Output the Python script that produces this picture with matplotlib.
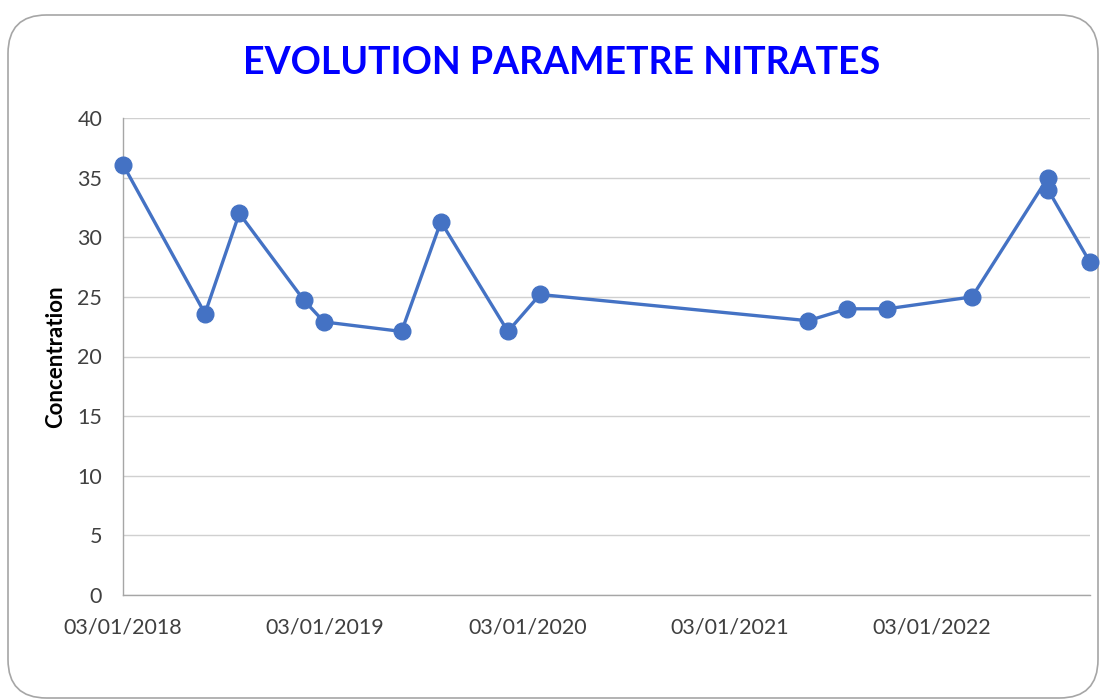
import matplotlib
matplotlib.use("Agg")
import matplotlib.pyplot as plt
import matplotlib.dates as mdates
from matplotlib.patches import FancyBboxPatch
import numpy as np
import datetime as dt

plt.rcParams['font.family'] = ['Lato', 'DejaVu Sans']

# sampling dates and nitrate concentrations
dates = ["2018-01-03", "2018-05-31", "2018-08-01", "2018-11-26", "2019-01-01",
         "2019-05-21", "2019-07-31", "2019-11-29", "2020-01-26", "2021-05-24",
         "2021-08-03", "2021-10-14", "2022-03-16", "2022-07-31", "2022-07-31",
         "2022-10-15"]
nitrates = [36.1, 23.6, 32.0, 24.7, 22.9, 22.1, 31.3, 22.1, 25.2, 23.0,
            24.0, 24.0, 25.0, 35.0, 34.0, 27.9]
tick_dates = ["2018-01-03", "2019-01-03", "2020-01-03", "2021-01-03", "2022-01-03"]

x = [dt.datetime.strptime(d, "%Y-%m-%d") for d in dates]
xt = [dt.datetime.strptime(d, "%Y-%m-%d") for d in tick_dates]

fig = plt.figure(figsize=(11, 7), dpi=100)

# rounded frame around the chart area
frame = FancyBboxPatch((8/1100, 2/700), 1090/1100, 683/700,
                       boxstyle="round,pad=0,rounding_size=0.035",
                       transform=fig.transFigure, facecolor='none',
                       edgecolor='#a6a6a6', linewidth=1.2, zorder=-1,
                       mutation_aspect=1100/700)
fig.patches.append(frame)

ax = fig.add_axes([123/1100, 105/700, (1090-123)/1100, (595-118)/700])
ax.set_facecolor('none')

ax.plot(x, nitrates, color='#4472C4', linewidth=2.4, marker='o',
        markersize=12, zorder=3, clip_on=False)

ax.set_ylim(0, 40)
ax.set_yticks(np.arange(0, 41, 5))
ax.set_xlim(x[0], x[-1])
ax.set_xticks(xt)
ax.xaxis.set_major_formatter(mdates.DateFormatter('%d/%m/%Y'))

ax.grid(axis='y', color='#d0d0d0', linewidth=1.0)
ax.set_axisbelow(True)
for s in ['top', 'right']:
    ax.spines[s].set_visible(False)
for s in ['left', 'bottom']:
    ax.spines[s].set_color('#a6a6a6')
    ax.spines[s].set_linewidth(1.0)

ax.tick_params(axis='both', length=0, labelsize=15.5, colors='#404040')
ax.tick_params(axis='y', pad=15)
ax.tick_params(axis='x', pad=16.5)

ax.set_ylabel('Concentration', fontsize=16, fontweight='bold', color='black',
              labelpad=8)

fig.text(562/1100, 637/700, 'EVOLUTION PARAMETRE NITRATES', ha='center',
         va='center', fontsize=27, fontweight='bold', color='#0000FF')

fig.savefig('out.png', dpi=100)
